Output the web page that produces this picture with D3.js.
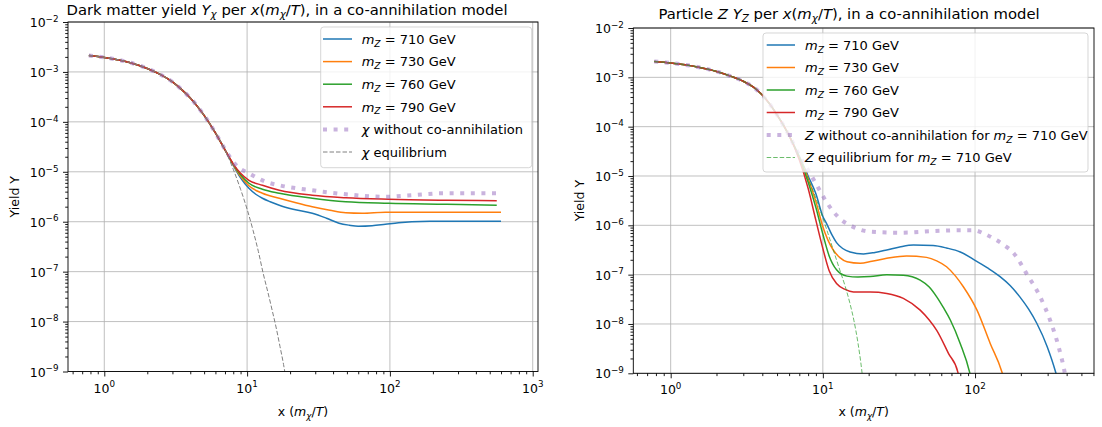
<!DOCTYPE html>
<html>
<head>
<meta charset="utf-8">
<script src="https://cdn.jsdelivr.net/npm/d3@7"></script>
<style>
  body { margin: 0; background: #fff; }
  text { font-family: "DejaVu Sans", sans-serif; white-space: pre; fill: #000; }
</style>
</head>
<body>
<script>
// Values. Yields are kept as log10(Y).

// Shared early part of every curve (x = m_chi / T).
const earlyX = [0.78, 1, 1.5, 2, 2.5, 3, 3.5, 4, 5, 6];
const chiEarlyLog = [-2.67, -2.71, -2.81, -2.93, -3.06, -3.2, -3.36, -3.52, -3.87, -4.22];
const zEarlyLog = [-2.68, -2.71, -2.79, -2.88, -2.98, -3.08, -3.2, -3.36, -3.76, -4.18];

// Left panel: dark matter yield.
const chi710X = [7, 8, 9, 10.3, 11.5, 12.8, 14.5, 16.8, 21, 28.6, 36, 44, 52, 60, 75, 93, 115, 142, 190, 243, 350, 600];
const chi710Log = [-4.56, -4.87, -5.12, -5.33, -5.45, -5.53, -5.6, -5.67, -5.75, -5.83, -5.93, -6.03, -6.07, -6.09, -6.08, -6.05, -6.02, -6.0, -5.99, -5.99, -5.99, -5.99];
const chi730X = [7, 8, 9, 10.3, 12.8, 16.8, 22, 28.6, 38, 49, 64, 93, 150, 243, 600];
const chi730Log = [-4.56, -4.86, -5.09, -5.28, -5.43, -5.53, -5.62, -5.7, -5.77, -5.82, -5.83, -5.81, -5.81, -5.81, -5.81];
const chi760X = [7, 8, 9, 10.3, 12.8, 16.8, 28.6, 49, 98, 250, 560];
const chi760Log = [-4.56, -4.85, -5.06, -5.23, -5.35, -5.43, -5.53, -5.6, -5.63, -5.65, -5.67];
const chi790X = [7, 8, 9, 10.3, 12.8, 16.8, 28.6, 49, 98, 250, 560];
const chi790Log = [-4.56, -4.84, -5.03, -5.17, -5.27, -5.37, -5.47, -5.52, -5.55, -5.57, -5.58];
const chiNoCoX = [7, 8, 8.6, 10.3, 13.5, 16.8, 28.6, 49, 93, 142, 243, 580];
const chiNoCoLog = [-4.55, -4.8, -4.9, -5.03, -5.2, -5.27, -5.37, -5.45, -5.5, -5.47, -5.43, -5.43];
const chiEqX = [7, 8, 9, 10, 11, 12, 13, 14, 15, 16, 17, 18, 18.6];
const chiEqLog = [-4.56, -4.95, -5.35, -5.75, -6.17, -6.6, -7.05, -7.42, -7.78, -8.13, -8.5, -8.86, -9.1];

// Right panel: particle Z yield.
const z710X = [7, 8, 9, 10, 10.6, 11.5, 12.3, 13.5, 15.1, 18.5, 22, 26.3, 32, 39.4, 53, 65, 80, 100, 120, 146, 170, 197, 225, 255, 298, 338, 360];
const z710Log = [-4.6, -5.0, -5.36, -5.82, -5.97, -6.2, -6.35, -6.47, -6.54, -6.58, -6.55, -6.5, -6.44, -6.4, -6.41, -6.46, -6.54, -6.71, -6.86, -7.04, -7.22, -7.45, -7.7, -7.99, -8.46, -8.97, -9.3];
const z730X = [7, 8, 9, 10, 10.8, 11.7, 13, 14.4, 17.6, 21, 26.3, 35.5, 48, 56, 65, 74, 84, 103, 126, 150, 160];
const z730Log = [-4.62, -5.05, -5.52, -6.03, -6.3, -6.5, -6.66, -6.74, -6.77, -6.73, -6.67, -6.62, -6.65, -6.72, -6.84, -7.02, -7.25, -7.72, -8.4, -8.97, -9.3];
const z760X = [7, 8, 9, 10, 11, 12.3, 14.4, 17, 20.5, 26.3, 33.8, 43.6, 50, 56, 62, 68.8, 80, 92, 97];
const z760Log = [-4.64, -5.12, -5.64, -6.18, -6.62, -6.9, -7.03, -7.05, -7.04, -7.0, -7.01, -7.11, -7.25, -7.45, -7.67, -7.92, -8.4, -8.97, -9.3];
const z790X = [7, 8, 9, 10, 11, 12.3, 14, 15.9, 20.5, 26.3, 33.8, 43.6, 50, 56, 67, 77, 81];
const z790Log = [-4.67, -5.25, -5.9, -6.47, -6.92, -7.18, -7.3, -7.35, -7.35, -7.38, -7.48, -7.72, -7.92, -8.13, -8.6, -8.97, -9.3];
const zNoCoX = [7, 8, 9.1, 10.2, 11.5, 13, 15.1, 20.5, 32.3, 59, 80, 98, 115, 133, 155, 180, 218, 268, 311, 354, 386, 400];
const zNoCoLog = [-4.58, -4.88, -5.18, -5.45, -5.69, -5.87, -6.0, -6.13, -6.15, -6.11, -6.1, -6.1, -6.17, -6.27, -6.4, -6.57, -6.98, -7.45, -7.92, -8.46, -8.94, -9.2];
const zEqX = [7, 8, 9, 10, 11, 12, 13, 14, 15, 16, 17, 18, 18.4];
const zEqLog = [-4.62, -5.05, -5.45, -5.85, -6.24, -6.6, -6.93, -7.23, -7.56, -7.93, -8.38, -8.93, -9.2];

// Tick labels.
const yMajor = [1e-9, 1e-8, 1e-7, 1e-6, 1e-5, 1e-4, 1e-3, 1e-2];
const yExp = ['−9', '−8', '−7', '−6', '−5', '−4', '−3', '−2'];
const xMajorLeft = [1, 10, 100, 1000];
const xMajorRight = [1, 10, 100];
const xExp = ['0', '1', '2', '3'];

const colors = ['#1f77b4', '#ff7f0e', '#2ca02c', '#d62728'];
const masses = ['710', '730', '760', '790'];

const svg = d3.select('body').append('svg').attr('width', 1102).attr('height', 427);

// Text with italic / sub / superscript pieces: [string, flags].
function rich(text, parts, fs) {
  let shift = 0;
  parts.forEach(([str, f = '']) => {
    const target = f.includes('s') ? fs * 0.22 : f.includes('p') ? -fs * 0.42 : 0;
    const ts = text.append('tspan').text(str).attr('dy', target - shift);
    shift = target;
    if (f.includes('i')) ts.style('font-style', 'italic');
    if (f.includes('s') || f.includes('p')) ts.attr('font-size', fs * 0.7);
  });
}

function minorTicks(domain) {
  const out = [];
  for (let e = -10; e <= 3; e++) {
    for (let m = 2; m <= 9; m++) {
      const v = m * Math.pow(10, e);
      if (v > domain[0] && v < domain[1]) out.push(v);
    }
  }
  return out;
}

const mz = m => [['m', 'i'], ['Z', 'is'], [' = ' + m + ' GeV']];
const xLabelParts = [['x ('], ['m', 'i'], ['χ', 'is'], ['/'], ['T', 'i'], [')']];

function panel(cfg) {
  const x = d3.scaleLog().domain(cfg.xDomain).range([cfg.left, cfg.right]);
  const y = d3.scaleLog().domain([1e-9, 1e-2]).range([cfg.bottom, cfg.top]);
  const g = svg.append('g');
  const w = cfg.right - cfg.left;
  const h = cfg.bottom - cfg.top;

  // Grid.
  g.selectAll('.gx').data(cfg.xMajor).join('line')
    .attr('x1', d => x(d)).attr('x2', d => x(d))
    .attr('y1', cfg.top).attr('y2', cfg.bottom)
    .attr('stroke', '#b0b0b0').attr('stroke-width', 0.8);
  g.selectAll('.gy').data(yMajor).join('line')
    .attr('y1', d => y(d)).attr('y2', d => y(d))
    .attr('x1', cfg.left).attr('x2', cfg.right)
    .attr('stroke', '#b0b0b0').attr('stroke-width', 0.8);

  // Curves.
  svg.append('clipPath').attr('id', cfg.id)
    .append('rect').attr('x', cfg.left).attr('y', cfg.top).attr('width', w).attr('height', h);
  const line = d3.line()
    .x(d => x(d[0]))
    .y(d => y(Math.pow(10, d[1])))
    .curve(d3.curveMonotoneX);
  const plot = g.append('g').attr('clip-path', `url(#${cfg.id})`);
  cfg.series.forEach(s => {
    plot.append('path')
      .datum(d3.zip(s.x, s.y))
      .attr('d', line)
      .attr('fill', 'none')
      .attr('stroke', s.color)
      .attr('stroke-width', s.width)
      .attr('stroke-opacity', s.opacity || 1)
      .attr('stroke-dasharray', s.dash || null)
      .attr('stroke-linejoin', 'round');
  });

  // Ticks.
  const ax = g.append('g').attr('transform', `translate(0,${cfg.bottom})`);
  ax.call(d3.axisBottom(x).tickValues(cfg.xMajor).tickSize(5).tickFormat(''));
  ax.append('g').call(d3.axisBottom(x).tickValues(minorTicks(cfg.xDomain)).tickSize(2.8).tickFormat(''));
  const ay = g.append('g').attr('transform', `translate(${cfg.left},0)`);
  ay.call(d3.axisLeft(y).tickValues(yMajor).tickSize(5).tickFormat(''));
  ay.append('g').call(d3.axisLeft(y).tickValues(minorTicks([1e-9, 1e-2])).tickSize(2.8).tickFormat(''));
  g.selectAll('.domain').remove();
  g.selectAll('.tick line').attr('stroke-width', 0.9);

  // Tick labels.
  cfg.xMajor.forEach((v, i) => {
    const t = g.append('text').attr('x', x(v)).attr('y', cfg.bottom + 21)
      .attr('text-anchor', 'middle').attr('font-size', 12.5);
    rich(t, [['10'], [xExp[i], 'p']], 12.5);
  });
  yMajor.forEach((v, i) => {
    const t = g.append('text').attr('x', cfg.left - 9.5).attr('y', y(v) + 5)
      .attr('text-anchor', 'end').attr('font-size', 12.5);
    rich(t, [['10'], [yExp[i], 'p']], 12.5);
  });

  // Frame.
  g.append('rect').attr('x', cfg.left).attr('y', cfg.top).attr('width', w).attr('height', h)
    .attr('fill', 'none').attr('stroke', '#000').attr('stroke-width', 0.9);

  // Labels.
  const title = g.append('text').attr('x', cfg.titleX).attr('y', cfg.titleY)
    .attr('text-anchor', 'middle').attr('font-size', 14.8);
  rich(title, cfg.title, 14.8);
  const xl = g.append('text').attr('x', (cfg.left + cfg.right) / 2).attr('y', 416)
    .attr('text-anchor', 'middle').attr('font-size', 12.5);
  rich(xl, xLabelParts, 12.5);
  g.append('text').attr('transform', `translate(${cfg.ylabelX},${(cfg.top + cfg.bottom) / 2}) rotate(-90)`)
    .attr('text-anchor', 'middle').attr('font-size', 12.5).text('Yield Y');

  // Legend.
  const L = cfg.legend;
  g.append('rect').attr('x', L.x).attr('y', L.y).attr('width', L.w).attr('height', L.h)
    .attr('rx', 3).attr('fill', '#fff').attr('fill-opacity', 0.8)
    .attr('stroke', '#cccccc').attr('stroke-opacity', 0.8);
  cfg.series.forEach((s, i) => {
    const cy = L.row0 + i * L.step;
    g.append('line').attr('x1', L.h0).attr('x2', L.h1).attr('y1', cy).attr('y2', cy)
      .attr('stroke', s.color).attr('stroke-width', s.width)
      .attr('stroke-opacity', s.opacity || 1)
      .attr('stroke-dasharray', s.dash || null);
    const t = g.append('text').attr('x', L.tx).attr('y', cy + 4.7).attr('font-size', 13);
    rich(t, s.label, 13);
  });
}

const leftSeries = [
  [chi710X, chi710Log], [chi730X, chi730Log], [chi760X, chi760Log], [chi790X, chi790Log]
].map((d, i) => ({
  x: earlyX.concat(d[0]), y: chiEarlyLog.concat(d[1]),
  color: colors[i], width: 1.5, label: mz(masses[i])
})).concat([
  { x: earlyX.concat(chiNoCoX), y: chiEarlyLog.concat(chiNoCoLog), color: '#9467bd', opacity: 0.5,
    width: 4, dash: '4,6.6', label: [['χ', 'i'], [' without co-annihilation']] },
  { x: earlyX.concat(chiEqX), y: chiEarlyLog.concat(chiEqLog), color: '#808080',
    width: 1, dash: '4.5,2', label: [['χ', 'i'], [' equilibrium']] }
]);

const rightSeries = [
  [z710X, z710Log], [z730X, z730Log], [z760X, z760Log], [z790X, z790Log]
].map((d, i) => ({
  x: earlyX.concat(d[0]), y: zEarlyLog.concat(d[1]),
  color: colors[i], width: 1.5, label: mz(masses[i])
})).concat([
  { x: earlyX.concat(zNoCoX), y: zEarlyLog.concat(zNoCoLog), color: '#9467bd', opacity: 0.5,
    width: 4, dash: '4,6.6', label: [['Z', 'i'], [' without co-annihilation for ']].concat(mz('710')) },
  { x: earlyX.concat(zEqX), y: zEarlyLog.concat(zEqLog), color: '#2ca02c', opacity: 0.7,
    width: 1, dash: '4.5,2', label: [['Z', 'i'], [' equilibrium for ']].concat(mz('710')) }
]);

panel({
  id: 'clipL', left: 68, right: 538, top: 22, bottom: 371.5,
  xDomain: [0.557, 1089], xMajor: xMajorLeft,
  title: [['Dark matter yield '], ['Y', 'i'], ['χ', 'is'], [' per '], ['x', 'i'], ['('], ['m', 'i'], ['χ', 'is'], ['/'], ['T', 'i'], ['), in a co-annihilation model']],
  titleX: 287, titleY: 15, ylabelX: 18.5,
  legend: { x: 320.7, y: 27, w: 211, h: 140.7, h0: 323, h1: 352, tx: 361.7, row0: 39, step: 22.6 },
  series: leftSeries
});

panel({
  id: 'clipR', left: 633.3, right: 1094, top: 28, bottom: 373.3,
  xDomain: [0.568, 605], xMajor: xMajorRight,
  title: [['Particle '], ['Z', 'i'], [' '], ['Y', 'i'], ['Z', 'is'], [' per '], ['x', 'i'], ['('], ['m', 'i'], ['χ', 'is'], ['/'], ['T', 'i'], ['), in a co-annihilation model']],
  titleX: 849, titleY: 18.5, ylabelX: 583.5,
  legend: { x: 763, y: 33, w: 325, h: 139, h0: 766.7, h1: 795, tx: 805, row0: 45, step: 22.5 },
  series: rightSeries
});
</script>
</body>
</html>
